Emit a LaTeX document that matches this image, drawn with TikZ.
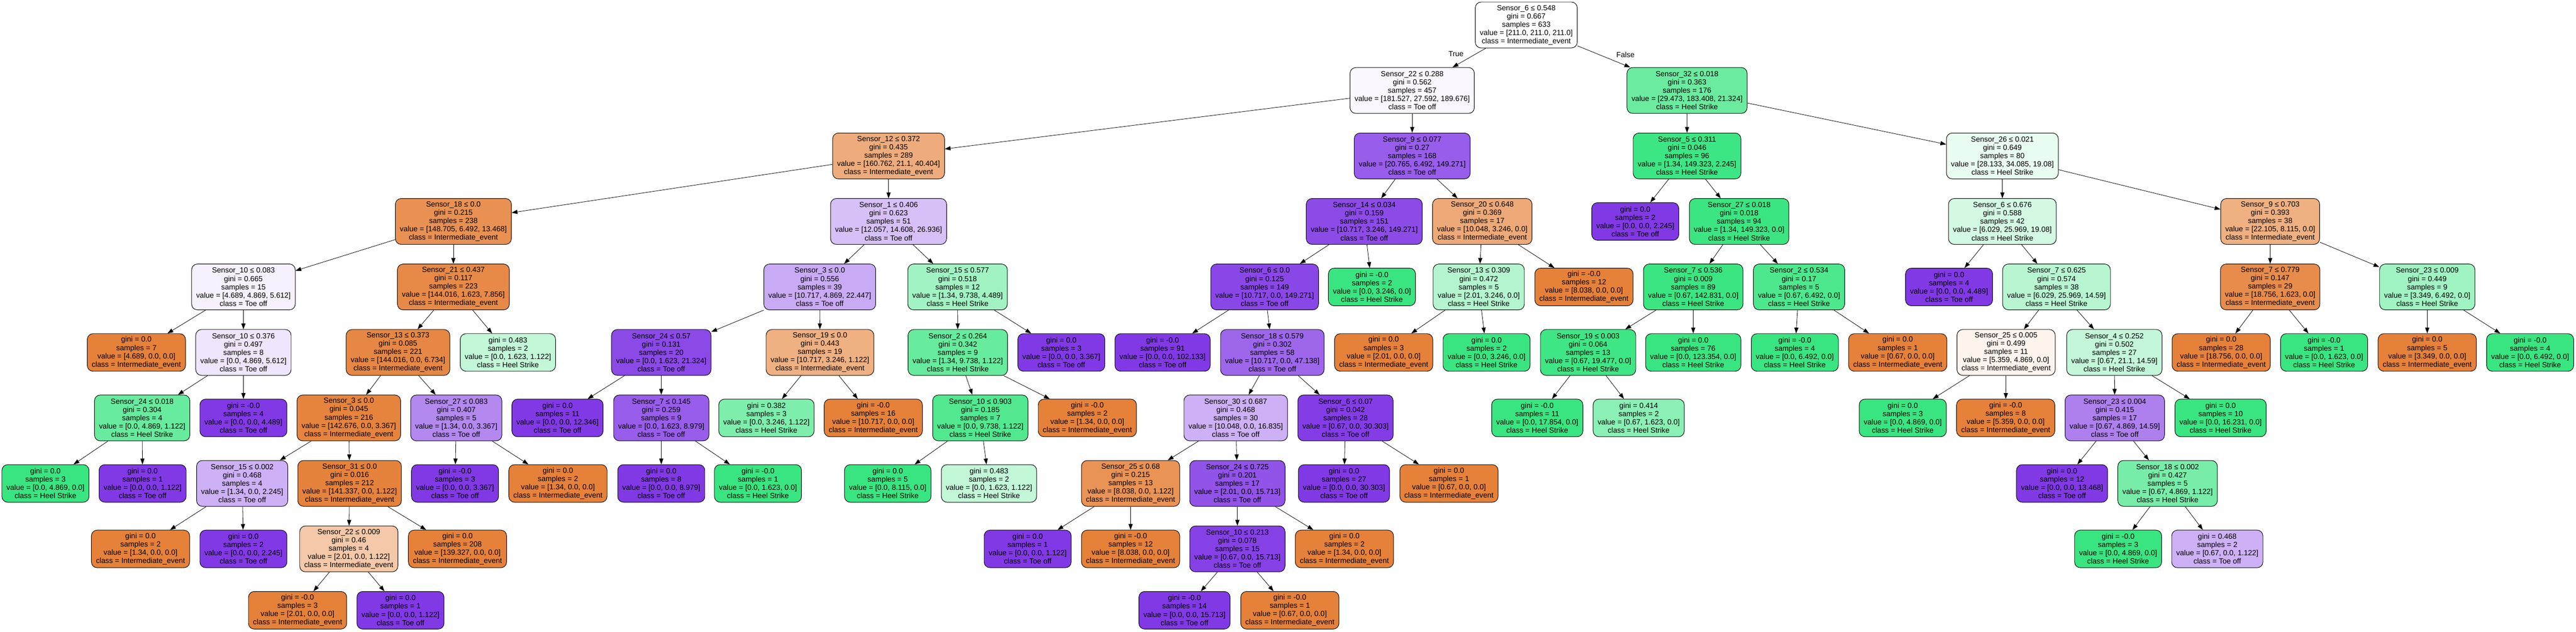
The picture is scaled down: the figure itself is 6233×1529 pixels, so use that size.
\documentclass[tikz,border=0pt]{standalone}
\usepackage{fontspec}
\setmainfont{Liberation Sans}
\usetikzlibrary{arrows.meta}
\definecolor{iecol}{RGB}{229,129,57}
\definecolor{hscol}{RGB}{57,229,129}
\definecolor{tocol}{RGB}{129,57,229}

\begin{document}
\begin{tikzpicture}[x=0.5pt, y=-0.5pt, font=\fontsize{9}{10}\selectfont,
    box/.style={draw, line width=0.6pt, rounded corners=7pt, align=center, inner xsep=5.5pt, inner ysep=0pt},
    split/.style={box, minimum height=55.5pt},
    leaf/.style={box, minimum height=45.5pt},
    ievent/.style={fill=iecol!#1!white},
    heel/.style={fill=hscol!#1!white},
    toe/.style={fill=tocol!#1!white},
    >={Triangle[length=7pt, width=5pt]}]
\useasboundingbox (0, 0) rectangle (6233, 1529);

\node[split, ievent=0] (n0) at (3693, 60.5) {Sensor\_6 ≤ 0.548\\gini = 0.667\\samples = 633\\value = [211.0, 211.0, 211.0]\\class = Intermediate\_event};
\node (true) at (3523, 131) {True};
\node (false) at (3933, 132) {False};

\node[split, toe=4] (n1) at (3417, 219) {Sensor\_22 ≤ 0.288\\gini = 0.562\\samples = 457\\value = [181.527, 27.592, 189.676]\\class = Toe off};
\node[split, ievent=66] (n2) at (2150, 377.5) {Sensor\_12 ≤ 0.372\\gini = 0.435\\samples = 289\\value = [160.762, 21.1, 40.404]\\class = Intermediate\_event};
\node[split, ievent=87] (n3) at (1097, 536) {Sensor\_18 ≤ 0.0\\gini = 0.215\\samples = 238\\value = [148.705, 6.492, 13.468]\\class = Intermediate\_event};
\node[split, toe=7] (n4) at (589, 694.5) {Sensor\_10 ≤ 0.083\\gini = 0.665\\samples = 15\\value = [4.689, 4.869, 5.612]\\class = Toe off};
\node[leaf, ievent=100] (n5) at (330, 853) {gini = 0.0\\samples = 7\\value = [4.689, 0.0, 0.0]\\class = Intermediate\_event};
\node[split, toe=13] (n6) at (589, 853) {Sensor\_10 ≤ 0.376\\gini = 0.497\\samples = 8\\value = [0.0, 4.869, 5.612]\\class = Toe off};
\node[split, heel=77] (n7) at (344, 1011.5) {Sensor\_24 ≤ 0.018\\gini = 0.304\\samples = 4\\value = [0.0, 4.869, 1.122]\\class = Heel Strike};
\node[leaf, heel=100] (n8) at (110, 1170) {gini = 0.0\\samples = 3\\value = [0.0, 4.869, 0.0]\\class = Heel Strike};
\node[leaf, toe=100] (n9) at (345, 1170) {gini = 0.0\\samples = 1\\value = [0.0, 0.0, 1.122]\\class = Toe off};
\node[leaf, toe=100] (n10) at (589, 1011.5) {gini = -0.0\\samples = 4\\value = [0.0, 0.0, 4.489]\\class = Toe off};
\node[split, ievent=93] (n11) at (1097, 694.5) {Sensor\_21 ≤ 0.437\\gini = 0.117\\samples = 223\\value = [144.016, 1.623, 7.856]\\class = Intermediate\_event};
\node[split, ievent=95] (n12) at (963, 853) {Sensor\_13 ≤ 0.373\\gini = 0.085\\samples = 221\\value = [144.016, 0.0, 6.734]\\class = Intermediate\_event};
\node[split, ievent=98] (n13) at (844, 1011.5) {Sensor\_3 ≤ 0.0\\gini = 0.045\\samples = 216\\value = [142.676, 0.0, 3.367]\\class = Intermediate\_event};
\node[split, toe=40] (n14) at (586, 1170) {Sensor\_15 ≤ 0.002\\gini = 0.468\\samples = 4\\value = [1.34, 0.0, 2.245]\\class = Toe off};
\node[leaf, ievent=100] (n15) at (340, 1328.5) {gini = 0.0\\samples = 2\\value = [1.34, 0.0, 0.0]\\class = Intermediate\_event};
\node[leaf, toe=100] (n16) at (589, 1328.5) {gini = 0.0\\samples = 2\\value = [0.0, 0.0, 2.245]\\class = Toe off};
\node[split, ievent=99] (n17) at (846, 1170) {Sensor\_31 ≤ 0.0\\gini = 0.016\\samples = 212\\value = [141.337, 0.0, 1.122]\\class = Intermediate\_event};
\node[split, ievent=44] (n18) at (844, 1328.5) {Sensor\_22 ≤ 0.009\\gini = 0.46\\samples = 4\\value = [2.01, 0.0, 1.122]\\class = Intermediate\_event};
\node[leaf, ievent=100] (n19) at (720, 1477) {gini = -0.0\\samples = 3\\value = [2.01, 0.0, 0.0]\\class = Intermediate\_event};
\node[leaf, toe=100] (n20) at (969, 1477) {gini = 0.0\\samples = 1\\value = [0.0, 0.0, 1.122]\\class = Toe off};
\node[leaf, ievent=100] (n21) at (1107, 1328.5) {gini = 0.0\\samples = 208\\value = [139.327, 0.0, 0.0]\\class = Intermediate\_event};
\node[split, toe=60] (n22) at (1104, 1011.5) {Sensor\_27 ≤ 0.083\\gini = 0.407\\samples = 5\\value = [1.34, 0.0, 3.367]\\class = Toe off};
\node[leaf, toe=100] (n23) at (1101, 1170) {gini = -0.0\\samples = 3\\value = [0.0, 0.0, 3.367]\\class = Toe off};
\node[leaf, ievent=100] (n24) at (1350, 1170) {gini = 0.0\\samples = 2\\value = [1.34, 0.0, 0.0]\\class = Intermediate\_event};
\node[leaf, heel=31] (n25) at (1229, 853) {gini = 0.483\\samples = 2\\value = [0.0, 1.623, 1.122]\\class = Heel Strike};
\node[split, toe=32] (n26) at (2150, 536) {Sensor\_1 ≤ 0.406\\gini = 0.623\\samples = 51\\value = [12.057, 14.608, 26.936]\\class = Toe off};
\node[split, toe=43] (n27) at (1983.5, 694.5) {Sensor\_3 ≤ 0.0\\gini = 0.556\\samples = 39\\value = [10.717, 4.869, 22.447]\\class = Toe off};
\node[split, toe=92] (n28) at (1600, 853) {Sensor\_24 ≤ 0.57\\gini = 0.131\\samples = 20\\value = [0.0, 1.623, 21.324]\\class = Toe off};
\node[leaf, toe=100] (n29) at (1349, 1011.5) {gini = 0.0\\samples = 11\\value = [0.0, 0.0, 12.346]\\class = Toe off};
\node[split, toe=82] (n30) at (1600, 1011.5) {Sensor\_7 ≤ 0.145\\gini = 0.259\\samples = 9\\value = [0.0, 1.623, 8.979]\\class = Toe off};
\node[leaf, toe=100] (n31) at (1600, 1170) {gini = 0.0\\samples = 8\\value = [0.0, 0.0, 8.979]\\class = Toe off};
\node[leaf, heel=100] (n32) at (1834, 1170) {gini = -0.0\\samples = 1\\value = [0.0, 1.623, 0.0]\\class = Heel Strike};
\node[split, ievent=63] (n33) at (1984, 853) {Sensor\_19 ≤ 0.0\\gini = 0.443\\samples = 19\\value = [10.717, 3.246, 1.122]\\class = Intermediate\_event};
\node[leaf, heel=65] (n34) at (1854.5, 1011.5) {gini = 0.382\\samples = 3\\value = [0.0, 3.246, 1.122]\\class = Heel Strike};
\node[leaf, ievent=100] (n35) at (2113, 1011.5) {gini = -0.0\\samples = 16\\value = [10.717, 0.0, 0.0]\\class = Intermediate\_event};
\node[split, heel=47] (n36) at (2317, 694.5) {Sensor\_15 ≤ 0.577\\gini = 0.518\\samples = 12\\value = [1.34, 9.738, 4.489]\\class = Heel Strike};
\node[split, heel=77] (n37) at (2317.5, 853) {Sensor\_2 ≤ 0.264\\gini = 0.342\\samples = 9\\value = [1.34, 9.738, 1.122]\\class = Heel Strike};
\node[split, heel=88] (n38) at (2372, 1011.5) {Sensor\_10 ≤ 0.903\\gini = 0.185\\samples = 7\\value = [0.0, 9.738, 1.122]\\class = Heel Strike};
\node[leaf, heel=100] (n39) at (2148, 1170) {gini = 0.0\\samples = 5\\value = [0.0, 8.115, 0.0]\\class = Heel Strike};
\node[leaf, heel=31] (n40) at (2393, 1170) {gini = 0.483\\samples = 2\\value = [0.0, 1.623, 1.122]\\class = Heel Strike};
\node[leaf, ievent=100] (n41) at (2631, 1011.5) {gini = -0.0\\samples = 2\\value = [1.34, 0.0, 0.0]\\class = Intermediate\_event};
\node[leaf, toe=100] (n42) at (2568, 853) {gini = 0.0\\samples = 3\\value = [0.0, 0.0, 3.367]\\class = Toe off};
\node[split, toe=82] (n43) at (3417, 377.5) {Sensor\_9 ≤ 0.077\\gini = 0.27\\samples = 168\\value = [20.765, 6.492, 149.271]\\class = Toe off};
\node[split, toe=91] (n44) at (3301, 536) {Sensor\_14 ≤ 0.034\\gini = 0.159\\samples = 151\\value = [10.717, 3.246, 149.271]\\class = Toe off};
\node[split, toe=93] (n45) at (3060, 694.5) {Sensor\_6 ≤ 0.0\\gini = 0.125\\samples = 149\\value = [10.717, 0.0, 149.271]\\class = Toe off};
\node[leaf, toe=100] (n46) at (2813, 853) {gini = -0.0\\samples = 91\\value = [0.0, 0.0, 102.133]\\class = Toe off};
\node[split, toe=77] (n47) at (3078.5, 853) {Sensor\_18 ≤ 0.579\\gini = 0.302\\samples = 58\\value = [10.717, 0.0, 47.138]\\class = Toe off};
\node[split, toe=40] (n48) at (2990, 1011.5) {Sensor\_30 ≤ 0.687\\gini = 0.468\\samples = 30\\value = [10.048, 0.0, 16.835]\\class = Toe off};
\node[split, ievent=86] (n49) at (2735.6, 1170) {Sensor\_25 ≤ 0.68\\gini = 0.215\\samples = 13\\value = [8.038, 0.0, 1.122]\\class = Intermediate\_event};
\node[leaf, toe=100] (n50) at (2486.6, 1328.5) {gini = 0.0\\samples = 1\\value = [0.0, 0.0, 1.122]\\class = Toe off};
\node[leaf, ievent=100] (n51) at (2735.6, 1328.5) {gini = -0.0\\samples = 12\\value = [8.038, 0.0, 0.0]\\class = Intermediate\_event};
\node[split, toe=87] (n52) at (2994, 1170) {Sensor\_24 ≤ 0.725\\gini = 0.201\\samples = 17\\value = [2.01, 0.0, 15.713]\\class = Toe off};
\node[split, toe=96] (n53) at (2994, 1328.5) {Sensor\_10 ≤ 0.213\\gini = 0.078\\samples = 15\\value = [0.67, 0.0, 15.713]\\class = Toe off};
\node[leaf, toe=100] (n54) at (2866, 1477) {gini = -0.0\\samples = 14\\value = [0.0, 0.0, 15.713]\\class = Toe off};
\node[leaf, ievent=100] (n55) at (3121, 1477) {gini = -0.0\\samples = 1\\value = [0.67, 0.0, 0.0]\\class = Intermediate\_event};
\node[leaf, ievent=100] (n56) at (3253, 1328.5) {gini = 0.0\\samples = 2\\value = [1.34, 0.0, 0.0]\\class = Intermediate\_event};
\node[split, toe=98] (n57) at (3255.7, 1011.5) {Sensor\_6 ≤ 0.07\\gini = 0.042\\samples = 28\\value = [0.67, 0.0, 30.303]\\class = Toe off};
\node[leaf, toe=100] (n58) at (3252, 1170) {gini = 0.0\\samples = 27\\value = [0.0, 0.0, 30.303]\\class = Toe off};
\node[leaf, ievent=100] (n59) at (3506, 1170) {gini = 0.0\\samples = 1\\value = [0.67, 0.0, 0.0]\\class = Intermediate\_event};
\node[leaf, heel=100] (n60) at (3319.6, 694.5) {gini = -0.0\\samples = 2\\value = [0.0, 3.246, 0.0]\\class = Heel Strike};
\node[split, ievent=68] (n61) at (3586.6, 536) {Sensor\_20 ≤ 0.648\\gini = 0.369\\samples = 17\\value = [10.048, 3.246, 0.0]\\class = Intermediate\_event};
\node[split, heel=38] (n62) at (3578, 694.5) {Sensor\_13 ≤ 0.309\\gini = 0.472\\samples = 5\\value = [2.01, 3.246, 0.0]\\class = Heel Strike};
\node[leaf, ievent=100] (n63) at (3348, 853) {gini = 0.0\\samples = 3\\value = [2.01, 0.0, 0.0]\\class = Intermediate\_event};
\node[leaf, heel=100] (n64) at (3597, 853) {gini = 0.0\\samples = 2\\value = [0.0, 3.246, 0.0]\\class = Heel Strike};
\node[leaf, ievent=100] (n65) at (3832.6, 694.5) {gini = -0.0\\samples = 12\\value = [8.038, 0.0, 0.0]\\class = Intermediate\_event};
\node[split, heel=75] (n66) at (4082, 219) {Sensor\_32 ≤ 0.018\\gini = 0.363\\samples = 176\\value = [29.473, 183.408, 21.324]\\class = Heel Strike};
\node[split, heel=98] (n67) at (4082, 377.5) {Sensor\_5 ≤ 0.311\\gini = 0.046\\samples = 96\\value = [1.34, 149.323, 2.245]\\class = Heel Strike};
\node[leaf, toe=100] (n68) at (3956.7, 536) {gini = 0.0\\samples = 2\\value = [0.0, 0.0, 2.245]\\class = Toe off};
\node[split, heel=99] (n69) at (4208, 536) {Sensor\_27 ≤ 0.018\\gini = 0.018\\samples = 94\\value = [1.34, 149.323, 0.0]\\class = Heel Strike};
\node[split, heel=99] (n70) at (4097, 694.5) {Sensor\_7 ≤ 0.536\\gini = 0.009\\samples = 89\\value = [0.67, 142.831, 0.0]\\class = Heel Strike};
\node[split, heel=97] (n71) at (3842.6, 853) {Sensor\_19 ≤ 0.003\\gini = 0.064\\samples = 13\\value = [0.67, 19.477, 0.0]\\class = Heel Strike};
\node[leaf, heel=100] (n72) at (3719.6, 1011.5) {gini = -0.0\\samples = 11\\value = [0.0, 17.854, 0.0]\\class = Heel Strike};
\node[leaf, heel=59] (n73) at (3965, 1011.5) {gini = 0.414\\samples = 2\\value = [0.67, 1.623, 0.0]\\class = Heel Strike};
\node[leaf, heel=100] (n74) at (4097, 853) {gini = 0.0\\samples = 76\\value = [0.0, 123.354, 0.0]\\class = Heel Strike};
\node[split, heel=90] (n75) at (4353, 694.5) {Sensor\_2 ≤ 0.534\\gini = 0.17\\samples = 5\\value = [0.67, 6.492, 0.0]\\class = Heel Strike};
\node[leaf, heel=100] (n76) at (4342.8, 853) {gini = -0.0\\samples = 4\\value = [0.0, 6.492, 0.0]\\class = Heel Strike};
\node[leaf, ievent=100] (n77) at (4591.8, 853) {gini = 0.0\\samples = 1\\value = [0.67, 0.0, 0.0]\\class = Intermediate\_event};
\node[split, heel=11] (n78) at (4845, 377.5) {Sensor\_26 ≤ 0.021\\gini = 0.649\\samples = 80\\value = [28.133, 34.085, 19.08]\\class = Heel Strike};
\node[split, heel=22] (n79) at (4845, 536) {Sensor\_6 ≤ 0.676\\gini = 0.588\\samples = 42\\value = [6.029, 25.969, 19.08]\\class = Heel Strike};
\node[leaf, toe=100] (n80) at (4716, 694.5) {gini = 0.0\\samples = 4\\value = [0.0, 0.0, 4.489]\\class = Toe off};
\node[split, heel=36] (n81) at (4976, 694.5) {Sensor\_7 ≤ 0.625\\gini = 0.574\\samples = 38\\value = [6.029, 25.969, 14.59]\\class = Heel Strike};
\node[split, ievent=9] (n82) at (4854, 853) {Sensor\_25 ≤ 0.005\\gini = 0.499\\samples = 11\\value = [5.359, 4.869, 0.0]\\class = Intermediate\_event};
\node[leaf, heel=100] (n83) at (4604, 1011.5) {gini = 0.0\\samples = 3\\value = [0.0, 4.869, 0.0]\\class = Heel Strike};
\node[leaf, ievent=100] (n84) at (4853, 1011.5) {gini = -0.0\\samples = 8\\value = [5.359, 0.0, 0.0]\\class = Intermediate\_event};
\node[split, heel=30] (n85) at (5116, 853) {Sensor\_4 ≤ 0.252\\gini = 0.502\\samples = 27\\value = [0.67, 21.1, 14.59]\\class = Heel Strike};
\node[split, toe=64] (n86) at (5117, 1011.5) {Sensor\_23 ≤ 0.004\\gini = 0.415\\samples = 17\\value = [0.67, 4.869, 14.59]\\class = Toe off};
\node[leaf, toe=100] (n87) at (4989.4, 1170) {gini = 0.0\\samples = 12\\value = [0.0, 0.0, 13.468]\\class = Toe off};
\node[split, heel=68] (n88) at (5244.7, 1170) {Sensor\_18 ≤ 0.002\\gini = 0.427\\samples = 5\\value = [0.67, 4.869, 1.122]\\class = Heel Strike};
\node[leaf, heel=100] (n89) at (5125, 1328.5) {gini = -0.0\\samples = 3\\value = [0.0, 4.869, 0.0]\\class = Heel Strike};
\node[leaf, toe=40] (n90) at (5365, 1328.5) {gini = 0.468\\samples = 2\\value = [0.67, 0.0, 1.122]\\class = Toe off};
\node[leaf, heel=100] (n91) at (5373, 1011.5) {gini = 0.0\\samples = 10\\value = [0.0, 16.231, 0.0]\\class = Heel Strike};
\node[split, ievent=63] (n92) at (5493, 536) {Sensor\_9 ≤ 0.703\\gini = 0.393\\samples = 38\\value = [22.105, 8.115, 0.0]\\class = Intermediate\_event};
\node[split, ievent=91] (n93) at (5493, 694.5) {Sensor\_7 ≤ 0.779\\gini = 0.147\\samples = 29\\value = [18.756, 1.623, 0.0]\\class = Intermediate\_event};
\node[leaf, ievent=100] (n94) at (5374.5, 853) {gini = 0.0\\samples = 28\\value = [18.756, 0.0, 0.0]\\class = Intermediate\_event};
\node[leaf, heel=100] (n95) at (5623.5, 853) {gini = -0.0\\samples = 1\\value = [0.0, 1.623, 0.0]\\class = Heel Strike};
\node[split, heel=48] (n96) at (5873, 694.5) {Sensor\_23 ≤ 0.009\\gini = 0.449\\samples = 9\\value = [3.349, 6.492, 0.0]\\class = Heel Strike};
\node[leaf, ievent=100] (n97) at (5873, 853) {gini = 0.0\\samples = 5\\value = [3.349, 0.0, 0.0]\\class = Intermediate\_event};
\node[leaf, heel=100] (n98) at (6122, 853) {gini = -0.0\\samples = 4\\value = [0.0, 6.492, 0.0]\\class = Heel Strike};

\draw[line width=0.5pt]
(n0) edge[->] (n1)
(n0) edge[->] (n66)
(n1) edge[->] (n2)
(n1) edge[->] (n43)
(n2) edge[->] (n3)
(n2) edge[->] (n26)
(n3) edge[->] (n4)
(n3) edge[->] (n11)
(n4) edge[->] (n5)
(n4) edge[->] (n6)
(n6) edge[->] (n7)
(n6) edge[->] (n10)
(n7) edge[->] (n8)
(n7) edge[->] (n9)
(n11) edge[->] (n12)
(n11) edge[->] (n25)
(n12) edge[->] (n13)
(n12) edge[->] (n22)
(n13) edge[->] (n14)
(n13) edge[->] (n17)
(n14) edge[->] (n15)
(n14) edge[->] (n16)
(n17) edge[->] (n18)
(n17) edge[->] (n21)
(n18) edge[->] (n19)
(n18) edge[->] (n20)
(n22) edge[->] (n23)
(n22) edge[->] (n24)
(n26) edge[->] (n27)
(n26) edge[->] (n36)
(n27) edge[->] (n28)
(n27) edge[->] (n33)
(n28) edge[->] (n29)
(n28) edge[->] (n30)
(n30) edge[->] (n31)
(n30) edge[->] (n32)
(n33) edge[->] (n34)
(n33) edge[->] (n35)
(n36) edge[->] (n37)
(n36) edge[->] (n42)
(n37) edge[->] (n38)
(n37) edge[->] (n41)
(n38) edge[->] (n39)
(n38) edge[->] (n40)
(n43) edge[->] (n44)
(n43) edge[->] (n61)
(n44) edge[->] (n45)
(n44) edge[->] (n60)
(n45) edge[->] (n46)
(n45) edge[->] (n47)
(n47) edge[->] (n48)
(n47) edge[->] (n57)
(n48) edge[->] (n49)
(n48) edge[->] (n52)
(n49) edge[->] (n50)
(n49) edge[->] (n51)
(n52) edge[->] (n53)
(n52) edge[->] (n56)
(n53) edge[->] (n54)
(n53) edge[->] (n55)
(n57) edge[->] (n58)
(n57) edge[->] (n59)
(n61) edge[->] (n62)
(n61) edge[->] (n65)
(n62) edge[->] (n63)
(n62) edge[->] (n64)
(n66) edge[->] (n67)
(n66) edge[->] (n78)
(n67) edge[->] (n68)
(n67) edge[->] (n69)
(n69) edge[->] (n70)
(n69) edge[->] (n75)
(n70) edge[->] (n71)
(n70) edge[->] (n74)
(n71) edge[->] (n72)
(n71) edge[->] (n73)
(n75) edge[->] (n76)
(n75) edge[->] (n77)
(n78) edge[->] (n79)
(n78) edge[->] (n92)
(n79) edge[->] (n80)
(n79) edge[->] (n81)
(n81) edge[->] (n82)
(n81) edge[->] (n85)
(n82) edge[->] (n83)
(n82) edge[->] (n84)
(n85) edge[->] (n86)
(n85) edge[->] (n91)
(n86) edge[->] (n87)
(n86) edge[->] (n88)
(n88) edge[->] (n89)
(n88) edge[->] (n90)
(n92) edge[->] (n93)
(n92) edge[->] (n96)
(n93) edge[->] (n94)
(n93) edge[->] (n95)
(n96) edge[->] (n97)
(n96) edge[->] (n98);
\end{tikzpicture}
\end{document}
